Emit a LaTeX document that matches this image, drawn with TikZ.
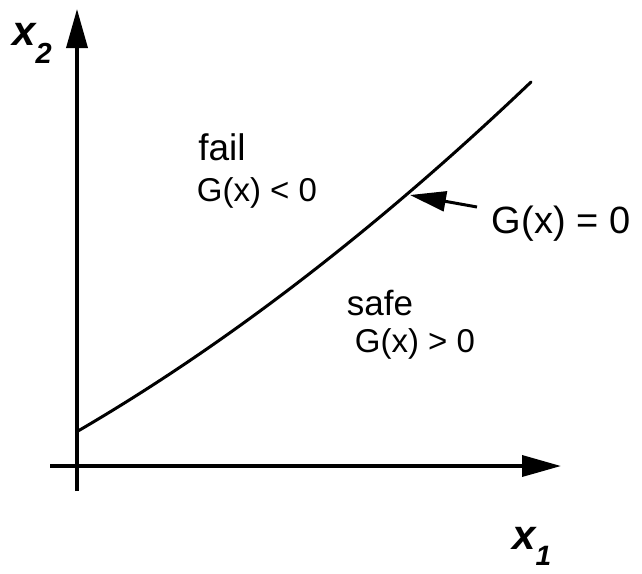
\documentclass[tikz,border=0pt]{standalone}
\usepackage{fontspec}
\setmainfont{Liberation Sans}
\usetikzlibrary{arrows.meta}
\newcommand{\fsz}[1]{\fontsize{#1}{#1}\selectfont}
\begin{document}
\begin{tikzpicture}[x=1pt,y=-1pt,
  axis/.style={line width=3.6pt,-{Triangle[length=39pt,width=21pt]}},
  limit/.style={line width=3pt,line cap=round},
  pointer/.style={line width=3pt,-{Triangle[length=36pt,width=20pt]}},
  region/.style={anchor=base,inner sep=0pt},
  axlabel/.style={anchor=base west,inner sep=0pt}]
\useasboundingbox (0,0) rectangle (642,573);
% axes
\coordinate (ybot) at (77,491);
\coordinate (ytop) at (77,9);
\coordinate (xleft) at (50,466);
\coordinate (xright) at (561,466);
\draw[axis] (ybot) -- (ytop);
\draw[axis] (xleft) -- (xright);
% limit state curve
\coordinate (cstart) at (78,431);
\coordinate (cend) at (531,82);
\draw[limit] (cstart) .. controls (229,343) and (380,226) .. (cend);
% labels
\node[region] (fail) at (222,160) {\fsz{37}fail};
\node[region] (gneg) at (257,201) {\fsz{33}G(x) {<} 0};
\node[region] (safe) at (380,315) {\fsz{35}safe};
\node[region] (gpos) at (415,352) {\fsz{33}G(x) {>} 0};
\node[region] (gzero) at (561,233) {\fsz{38}G(x) = 0};
\coordinate (ptail) at (477,207);
\coordinate (ptip) at (410,195);
\draw[pointer] (ptail) -- (ptip);
\node[axlabel] (x2) at (12,45) {\fsz{42}\bfseries\itshape x\lower18pt\hbox{\fsz{29}\bfseries\itshape 2}};
\node[axlabel] (x1) at (512,549) {\fsz{42}\bfseries\itshape x\lower16pt\hbox{\fsz{28}\bfseries\itshape 1}};
\end{tikzpicture}
\end{document}
